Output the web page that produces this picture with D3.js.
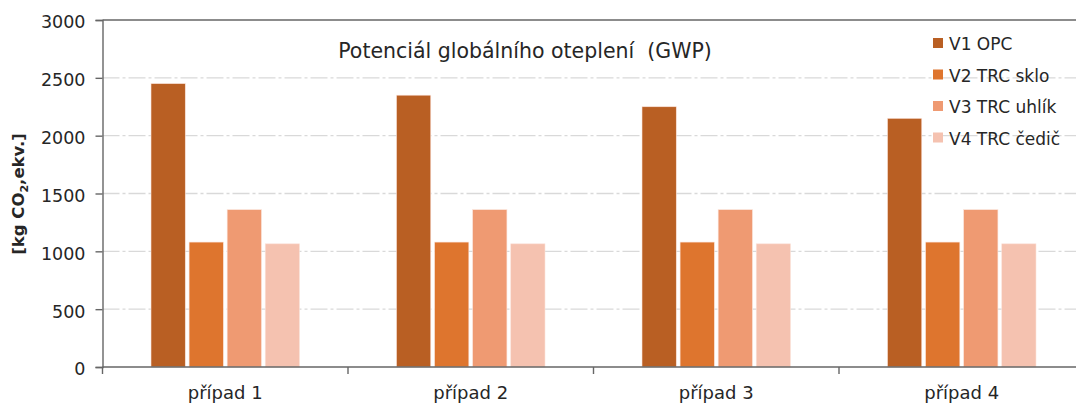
<!DOCTYPE html>
<html>
<head>
<meta charset="utf-8">
<script src="https://cdn.jsdelivr.net/npm/d3@7/dist/d3.min.js"></script>
<style>
  html, body { margin: 0; padding: 0; background: #fff; }
  svg { display: block; }
  text { font-family: "DejaVu Sans", sans-serif; fill: #262626; }
</style>
</head>
<body>
<svg id="chart" width="1076" height="405"></svg>
<script>
// Global warming potential per case and variant
const cases = ["případ 1", "případ 2", "případ 3", "případ 4"];
const seriesNames = ["V1 OPC", "V2 TRC sklo", "V3 TRC uhlík", "V4 TRC čedič"];
const v1 = [2450, 2350, 2250, 2150];
const v2 = [1080, 1080, 1080, 1080];
const v3 = [1360, 1360, 1360, 1360];
const v4 = [1065, 1065, 1065, 1065];
const yTicks = [0, 500, 1000, 1500, 2000, 2500, 3000];
const colors = ["#b95f23", "#de752e", "#ef9a72", "#f5c2b0"];

const seriesValues = [v1, v2, v3, v4];

const svg = d3.select("#chart");
const plotLeft = 102.5, plotTop = 20, plotBottom = 367;
const bandStep = 245.5;

const x = d3.scaleBand()
  .domain(cases)
  .range([plotLeft, plotLeft + bandStep * cases.length])
  .padding(0);

const groupWidth = 148.5;
const xInner = d3.scaleBand()
  .domain(seriesNames)
  .range([0, groupWidth])
  .paddingInner(0.1)
  .paddingOuter(0);

const y = d3.scaleLinear().domain([0, 3000]).range([plotBottom, plotTop]);

// Dash-dot gridlines
svg.append("g")
  .selectAll("line")
  .data(yTicks.filter(t => t > 0 && t < 3000))
  .join("line")
  .attr("x1", plotLeft).attr("x2", 1076)
  .attr("y1", d => y(d)).attr("y2", d => y(d))
  .attr("stroke", "#d9d9d9")
  .attr("stroke-width", 1.4)
  .attr("stroke-dasharray", "17,3,3,3");

// Top frame line
svg.append("line")
  .attr("x1", plotLeft).attr("x2", 1076)
  .attr("y1", y(3000)).attr("y2", y(3000))
  .attr("stroke", "#666").attr("stroke-width", 1.4);

// Bars
const groupOffset = (x.bandwidth() - groupWidth) / 2;
const barData = [];
cases.forEach((c, i) => {
  seriesNames.forEach((s, j) => {
    barData.push({ c, s, j, v: seriesValues[j][i] });
  });
});
svg.append("g")
  .selectAll("rect")
  .data(barData)
  .join("rect")
  .attr("x", d => x(d.c) + groupOffset + xInner(d.s))
  .attr("y", d => y(d.v))
  .attr("width", xInner.bandwidth())
  .attr("height", d => y(0) - y(d.v))
  .attr("fill", d => colors[d.j])
  .attr("stroke", "#fbe3da")
  .attr("stroke-width", 0.6);

// Y axis
const yAxis = svg.append("g")
  .attr("transform", `translate(${plotLeft},0)`)
  .call(d3.axisLeft(y).tickValues(yTicks).tickSize(7).tickPadding(10).tickFormat(d3.format("d")));
yAxis.select(".domain").attr("stroke", "#666").attr("stroke-width", 1.4);
yAxis.selectAll(".tick line").attr("stroke", "#666").attr("stroke-width", 1.4);
yAxis.selectAll(".tick text")
  .attr("font-family", "DejaVu Sans, sans-serif")
  .attr("font-size", 17.5)
  .attr("fill", "#262626")
  .attr("dy", "0.45em");

// X axis with ticks at group boundaries
const xAxis = svg.append("g")
  .attr("transform", `translate(0,${plotBottom})`);
xAxis.append("line")
  .attr("x1", plotLeft).attr("x2", 1076)
  .attr("y1", 0).attr("y2", 0)
  .attr("stroke", "#666").attr("stroke-width", 1.4);
xAxis.selectAll(".bound")
  .data(cases)
  .join("line")
  .attr("class", "bound")
  .attr("x1", d => x(d)).attr("x2", d => x(d))
  .attr("y1", 0).attr("y2", 7)
  .attr("stroke", "#666").attr("stroke-width", 1.4);
xAxis.selectAll(".lbl")
  .data(cases)
  .join("text")
  .attr("class", "lbl")
  .attr("x", d => x(d) + x.bandwidth() / 2)
  .attr("y", 32)
  .attr("text-anchor", "middle")
  .attr("font-size", 18)
  .text(d => d);

// Y axis title
const yTitle = svg.append("text")
  .attr("transform", "translate(24,194) rotate(-90)")
  .attr("text-anchor", "middle")
  .attr("font-size", 16.5)
  .attr("font-weight", "bold");
yTitle.append("tspan").text("[kg CO");
yTitle.append("tspan").attr("font-size", 11).attr("dy", 4).text("2");
yTitle.append("tspan").attr("dy", -4).text(",ekv.]");

// Chart title
svg.append("text")
  .attr("x", 525)
  .attr("y", 58)
  .attr("text-anchor", "middle")
  .attr("font-size", 20.5)
  .attr("xml:space", "preserve")
  .text("Potenciál globálního oteplení  (GWP)");

// Legend
const legend = svg.append("g").attr("transform", "translate(933,38)");
const item = legend.selectAll("g")
  .data(seriesNames)
  .join("g")
  .attr("transform", (d, i) => `translate(0,${i * 31.5})`);
item.append("rect")
  .attr("width", 10).attr("height", 10)
  .attr("fill", (d, i) => colors[i]);
item.append("text")
  .attr("x", 16).attr("y", 12)
  .attr("font-size", 17)
  .text(d => d);
</script>
</body>
</html>
